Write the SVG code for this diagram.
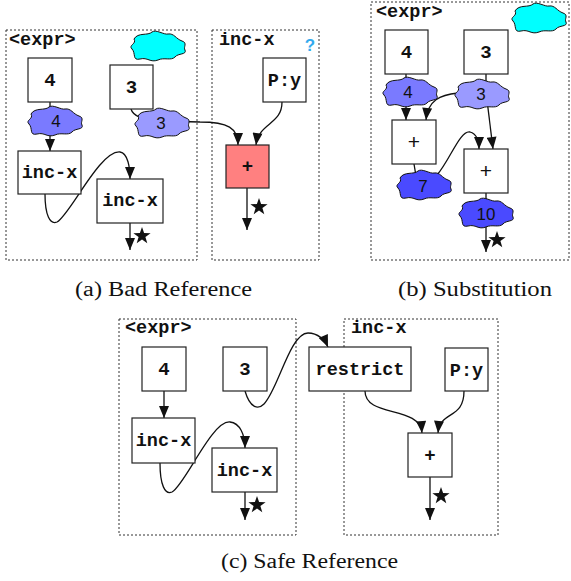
<svg xmlns="http://www.w3.org/2000/svg" xmlns:xlink="http://www.w3.org/1999/xlink" width="571" height="581" viewBox="0 0 571 581">
<style>
.panel{fill:none;stroke:#333;stroke-width:1;stroke-dasharray:2,2}
.box{fill:#fff;stroke:#222;stroke-width:1.2}
.mono{font-family:"Liberation Mono","DejaVu Sans Mono",monospace;font-weight:bold;font-size:18.5px;fill:#111}
.num{font-family:"Liberation Mono","DejaVu Sans Mono",monospace;font-weight:bold;font-size:19px;fill:#111;text-anchor:middle}
.plus{font-family:"Liberation Sans",Arial,sans-serif;font-size:21px;fill:#111;text-anchor:middle}
.cl{font-family:"Liberation Sans",Arial,sans-serif;font-size:17px;fill:#111;text-anchor:middle}
.cap{font-family:"Liberation Serif","Times New Roman",serif;font-size:20px;fill:#111}
.edge{fill:none;stroke:#111;stroke-width:1.3}
.cloud{stroke:#111;stroke-width:1}
</style>
<defs>
<marker id="arr" viewBox="0 0 12 10" refX="12" refY="5" markerWidth="13" markerHeight="10" markerUnits="userSpaceOnUse" orient="auto">
<path d="M0,0 L12,5 L0,10 Z" fill="#111"/>
</marker>
<path id="cloudshape" d="M-24,-7 C-20,-14 -10,-10 -6,-14 C-2,-17 6,-11 10,-12 C16,-13 18,-7 24,-5 C30,-3 25,1 27,4 C29,9 20,7 17,11 C13,15 6,11 0,14 C-8,17 -10,11 -18,13 C-26,15 -22,7 -26,3 C-30,-1 -21,-2 -24,-7 Z"/>
<polygon id="star" points="0,-9 2.1,-2.9 8.6,-2.8 3.4,1.1 5.3,7.3 0,3.6 -5.3,7.3 -3.4,1.1 -8.6,-2.8 -2.1,-2.9" fill="#111"/>
</defs>
<rect width="571" height="581" fill="#fff"/>

<g id="panels">
<rect class="panel" x="6" y="30" width="191" height="230"/>
<text class="mono" x="9" y="45">&lt;expr&gt;</text>
<rect class="panel" x="212" y="30" width="107" height="230"/>
<text class="mono" x="219" y="45">inc-x</text>
<text x="310" y="51" font-family="Liberation Sans,Arial,sans-serif" font-weight="bold" font-size="17" fill="#33aaee" text-anchor="middle">?</text>
<rect class="panel" x="371" y="2" width="198" height="258"/>
<text class="mono" x="376" y="17">&lt;expr&gt;</text>
<rect class="panel" x="119" y="319" width="177" height="216"/>
<text class="mono" x="125" y="333">&lt;expr&gt;</text>
<rect class="panel" x="344" y="319" width="154" height="216"/>
<text class="mono" x="351" y="333">inc-x</text>
</g>

<g id="connectors">
<!-- panel a -->
<path class="edge" d="M50,102 L50,151" marker-end="url(#arr)"/>
<path class="edge" d="M131,109 C133,116 142,120 160,121 L200,122 C228,122 238,128 238,145" marker-end="url(#arr)"/>
<path class="edge" d="M282,102 C282,125 259,122 256,145" marker-end="url(#arr)"/>
<path class="edge" d="M45,194 C45,215 50,225 57,222 C70,215 100,150 120,152 C128,153 130,168 130,179" marker-end="url(#arr)"/>
<path class="edge" d="M130,223 L130,250" marker-end="url(#arr)"/>
<path class="edge" d="M247,188 L247,230" marker-end="url(#arr)"/>
<!-- panel b -->
<path class="edge" d="M406,74 L406,120" marker-end="url(#arr)"/>
<path class="edge" d="M486,74 L486,84"/>
<path class="edge" d="M458,93 C440,95 428,100 426,120" marker-end="url(#arr)"/>
<path class="edge" d="M487,100 L493,149" marker-end="url(#arr)"/>
<path class="edge" d="M414,164 L416,176"/>
<path class="edge" d="M437,175 C450,160 460,130 470,132 C477,134 479,140 479,149" marker-end="url(#arr)"/>
<path class="edge" d="M486,193 L486,252" marker-end="url(#arr)"/>
<!-- panel c -->
<path class="edge" d="M164,391 L164,418" marker-end="url(#arr)"/>
<path class="edge" d="M160,463 C160,485 165,495 172,492 C185,485 212,420 230,422 C240,423 245,435 245,448" marker-end="url(#arr)"/>
<path class="edge" d="M245,492 L245,520" marker-end="url(#arr)"/>
<path class="edge" d="M245,391 C250,408 258,410 264,404 C278,390 290,333 308,333 C318,333 325,340 328,347" marker-end="url(#arr)"/>
<path class="edge" d="M365,391 C365,418 420,405 422,433" marker-end="url(#arr)"/>
<path class="edge" d="M464,391 C464,420 440,410 438,433" marker-end="url(#arr)"/>
<path class="edge" d="M430,477 L430,520" marker-end="url(#arr)"/>
</g>

<g id="stars">
<use xlink:href="#star" href="#star" x="142" y="236"/>
<use xlink:href="#star" href="#star" x="259" y="207"/>
<use xlink:href="#star" href="#star" x="497" y="240"/>
<use xlink:href="#star" href="#star" x="257" y="505"/>
<use xlink:href="#star" href="#star" x="441" y="496"/>
</g>

<!-- panel a nodes -->
<g id="a-cyan"><use xlink:href="#cloudshape" href="#cloudshape" class="cloud" fill="#00ffff" transform="translate(158,46)"/></g>
<g id="a-n4"><rect class="box" x="28" y="58" width="44" height="44"/><text class="num" x="50" y="86">4</text></g>
<g id="a-n3"><rect class="box" x="110" y="65" width="43" height="44"/><text class="num" x="131.5" y="93">3</text></g>
<g id="a-c4"><use xlink:href="#cloudshape" href="#cloudshape" class="cloud" fill="#7a7aff" transform="translate(55,121)"/><text class="cl" x="56" y="127">4</text></g>
<g id="a-c3"><use xlink:href="#cloudshape" href="#cloudshape" class="cloud" fill="#9a9aff" transform="translate(162,123)"/><text class="cl" x="161" y="129">3</text></g>
<g id="a-inc1"><rect class="box" x="18" y="151" width="63" height="43"/><text class="mono" x="49.5" y="178" text-anchor="middle">inc-x</text></g>
<g id="a-inc2"><rect class="box" x="97" y="179" width="66" height="44"/><text class="mono" x="130" y="206" text-anchor="middle">inc-x</text></g>
<g id="a-py"><rect class="box" x="263" y="58" width="43" height="44"/><text class="mono" x="284.5" y="86" text-anchor="middle">P:y</text></g>
<g id="a-plus"><rect class="box" x="226" y="145" width="43" height="43" style="fill:#ff8080"/><text class="num" x="247.5" y="172">+</text></g>

<!-- panel b nodes -->
<g id="b-cyan"><use xlink:href="#cloudshape" href="#cloudshape" class="cloud" fill="#00ffff" transform="translate(539,18)"/></g>
<g id="b-n4"><rect class="box" x="385" y="30" width="43" height="44"/><text class="num" x="406.5" y="58">4</text></g>
<g id="b-n3"><rect class="box" x="464" y="30" width="44" height="44"/><text class="num" x="486" y="58">3</text></g>
<g id="b-c4"><use xlink:href="#cloudshape" href="#cloudshape" class="cloud" fill="#7a7aff" transform="translate(410,92)"/><text class="cl" x="408" y="98">4</text></g>
<g id="b-c3"><use xlink:href="#cloudshape" href="#cloudshape" class="cloud" fill="#9a9aff" transform="translate(482,94)"/><text class="cl" x="481" y="100">3</text></g>
<g id="b-p1"><rect class="box" x="392" y="120" width="44" height="44"/><text class="plus" x="414" y="149">+</text></g>
<g id="b-p2"><rect class="box" x="464" y="149" width="44" height="44"/><text class="plus" x="486" y="178">+</text></g>
<g id="b-c7"><use xlink:href="#cloudshape" href="#cloudshape" class="cloud" fill="#4a4aff" transform="translate(424,185)"/><text class="cl" x="423" y="192">7</text></g>
<g id="b-c10"><use xlink:href="#cloudshape" href="#cloudshape" class="cloud" fill="#4a4aff" transform="translate(486,213)"/><text class="cl" x="486" y="220">10</text></g>

<!-- panel c nodes -->
<g id="c-n4"><rect class="box" x="142" y="347" width="44" height="44"/><text class="num" x="164" y="375">4</text></g>
<g id="c-n3"><rect class="box" x="223" y="347" width="44" height="44"/><text class="num" x="245" y="375">3</text></g>
<g id="c-inc1"><rect class="box" x="132" y="418" width="63" height="45"/><text class="mono" x="163.5" y="446" text-anchor="middle">inc-x</text></g>
<g id="c-inc2"><rect class="box" x="212" y="448" width="65" height="44"/><text class="mono" x="244.5" y="476" text-anchor="middle">inc-x</text></g>
<g id="c-restrict"><rect class="box" x="309" y="347" width="102" height="44"/><text class="mono" x="360" y="375" text-anchor="middle">restrict</text></g>
<g id="c-py"><rect class="box" x="445" y="348" width="43" height="43"/><text class="mono" x="466.5" y="376" text-anchor="middle">P:y</text></g>
<g id="c-plus"><rect class="box" x="408" y="433" width="44" height="44"/><text class="num" x="430" y="461">+</text></g>

<g id="captions">
<text class="cap" x="75" y="296" textLength="177" lengthAdjust="spacingAndGlyphs">(a) Bad Reference</text>
<text class="cap" x="398" y="296" textLength="154" lengthAdjust="spacingAndGlyphs">(b) Substitution</text>
<text class="cap" x="221" y="568" textLength="177" lengthAdjust="spacingAndGlyphs">(c) Safe Reference</text>
</g>
</svg>
